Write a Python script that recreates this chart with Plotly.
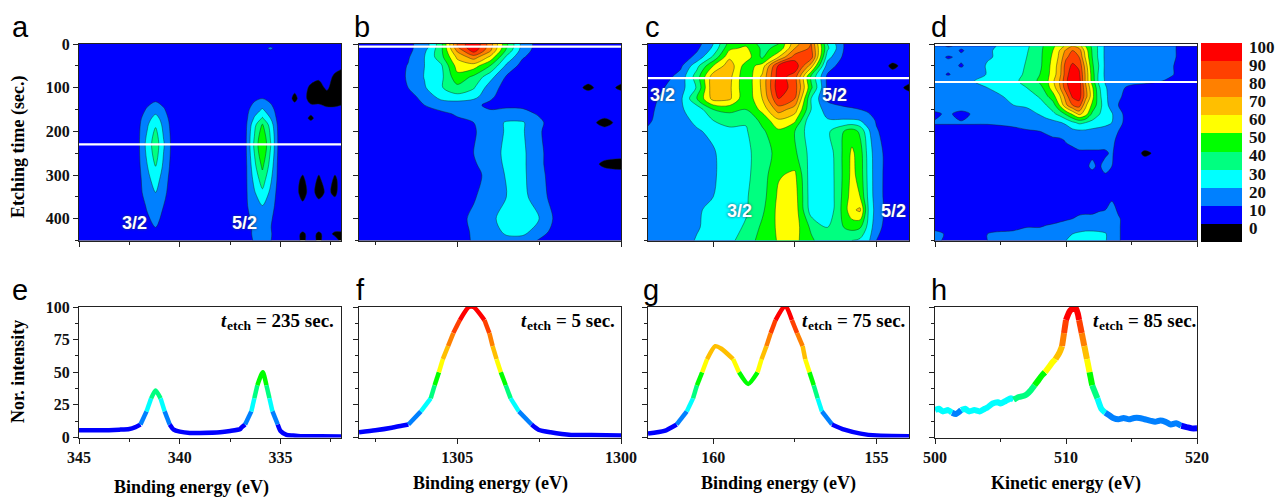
import plotly.graph_objects as go

W, H = 1282, 497
# ---------- map data ----------
a_x = [345,342.6,342,341.6,341.2,340.8,340.4,340,338,337,336.7,336.3,335.9,335.5,335.1,334.7,334.3,333.9,333.5,333.1,332.7,332.3,332]
a_y = [0,10,20,50,75,100,125,150,170,185,230,280,310,340,370,420,435,450]
a_z = [
[5,5,5,5,5,4,4,4,4,4,4,4,3,3,3,2,2,2,2,2,2,2,2],
[5,5,5,5,5,4,4,4,4,4,4,4,4,13,3,2,2,2,2,2,2,2,2],
[5,5,5,5,5,4,4,4,4,4,4,4,3,3,3,2,2,2,2,2,2,2,2],
[5,5,5,5,5,4,4,4,4,4,5,5,5,4,3,2,2,2,2,2,2,2,1],
[5,5,5,5,5,4,4,4,4,5,5,5,5,4,3,2,2,2,2,1,2,-1,-2],
[5,5,5,5,6,4,4,4,5,5,5,6,7,5,3,2,1,2,-1,-2,1,-3,-3],
[5,5,5,7,8,6,4,4,5,5,6,8,10,7,3,2,-1,2,-2,-2,-3,-3,-3],
[5,5,7,11,15,11,5,4,5,6,7,15,21,14,5,2,2,2,2,2,1,1,2],
[5,6,8,16,24,15,6,4,5,6,8,21,31,20,6,2,2,2,-1,2,2,2,2],
[5,6,9,19,29,17,7,4,5,6,9,27,41,26,7,2,2,2,2,2,2,2,2],
[5,6,10,24,36,21,8,4,5,6,10,32,50,31,8,2,2,2,2,2,2,2,2],
[5,6,9,20,30,18,7,4,5,6,9,27,42,26,7,2,2,2,2,2,2,2,2],
[5,6,8,17,25,15,6,4,5,6,9,23,35,22,7,2,2,-1,3,-1,3,-1,2],
[5,6,8,14,20,13,5,4,5,6,9,19,28,18,6,2,2,-2,2,-2,1,-1,2],
[5,5,7,11,15,10,5,4,5,6,9,15,20,14,6,2,2,1,2,2,2,2,2],
[5,5,6,8,10,7,4,4,5,6,8,11,12,10.5,5,2,2,2,2,2,2,2,2],
[5,5,5,6,8,6,4,4,5,6,8,11,12,11,5,2,2,-1,2,-1,2,-1,-1],
[5,5,5,6,7,5,4,4,5,6,8,10.5,11,10.5,5,2,2,-1,2,-1,2,2,-1],
]
b_x = [1308,1307.5,1307,1306.5,1306,1305.5,1305,1304.5,1304,1303.5,1303,1302.5,1302,1301.5,1301,1300.5,1300]
b_y = [0,5,15,30,50,75,100,120,140,160,180,200,250,275,300,350,400,430,450]
b_z = [
[3,3,5,8,14,36,80,100,75,42,16,6,4,3,2,2,2],
[3,3,5,8,14,36,80,100,75,42,16,6,4,3,2,2,2],
[3,3,4,7,18,37,72,95,72,38,15,5,4,3,2,2,2],
[2,3,4,9,20,36,62,75,58,28,11,4,3,2,2,2,2],
[2,3,5,10.5,20,28,54,55,40,18,6,3,2,2,2,2,2],
[2,3,5,11,20.5,27,47,38,24,9,4,3,2,2,2,2,2],
[2,3,5,10,19,29,37,31,15,6,3,3,2,2,-1,2,-1],
[2,3,4,7,13,24,27,24,12,5,3,3,2,2,2,2,2],
[2,2,3,5,10,14,14,12,8,8,8,4,2,2,2,2,2],
[2,2,3,4,6,8,11,11,12,14,13,9,3,2,2,2,2],
[2,2,3,4,5,6,8,10,15,21,21,12,5,2,2,-2,2],
[2,2,3,4,5,5,6,9,15,21,21,11,5,2,2,2,2],
[2,2,3,4,5,5,7,10,16,22,22,12,5,2,2,2,2],
[2,2,3,4,5,5,7,9,14,22,22,12,5,2,2,-1,-2],
[2,2,3,4,5,5,6,8,12,21,22,13,5,2,2,2,2],
[2,2,3,4,5,6,7,9,15,20,23,14,6,2,2,2,2],
[2,2,3,4,5,6,7,12,17,25,26,20,8,2,2,2,2],
[2,2,3,4,5,6,7,11,15,22,23,15,6,2,2,2,2],
[2,2,3,4,5,6,6,11,14,17,16,9,4,2,2,2,2],
]
c_x = [162,161.5,161,160.5,160,159.5,159,158.5,158,157.5,157,156.5,156,155.75,155.5,155.25,155,154.5,154]
c_y = [0,10,30,50,75,100,125,150,175,200,250,300,350,380,420,450]
c_z = [
[2,2,3,6,20,44,48,36,40,66,80,30,10,7,5,3,2,2,2],
[2,2,3,8,22,48,52,38,42,70,82,32,10,7,5,3,3,2,2],
[2,3,4,13,32,58,56,38,60,85,85,24,8,6,5,3,3,2,2],
[2,4,8,27,50,66,45,54,92,97,65,15,5,4,4,3,3,-1,2],
[3,6,14,35,66,63,42,62,95,85,38,8,5,4,4,3,3,2,2],
[3,10,16,31,68,62,42,62,97,85,42,8,4,4,3,3,3,2,-1],
[7,12,18,40,64,62,42,60,90,80,30,8,5,5,5,4,4,2,2],
[8,13,19,24,40,43,40,53,75,65,30,15,12,11,10,8,5,3,3],
[9,13,17,22,30,33,31,43,58,52,21,21,21,21,20,15,9,4,3],
[11,14,18,19,22,28,29,38,48,40,23,28,40,45,38,22,11,4,3],
[12,14,16,18,19,25,28,34,44,42,26,23,42,52,45,26,14,4,3],
[12,14,16,18,19,24,28,35,49,52,24,22,42,53,46,27,14,4,2],
[12,14,16,19,20,24,29,36,52,55,24,21,43,55,50,28,14,4,3],
[13,14,15,19,22,25,29,38,53,56,25,21,44,58,62,30,15,4,3],
[13,14,15,19,24,27,31,42,52,55,38,30,40,43,41,27,13,4,3],
[13,14,15,21,24,27,36,43,51,53,42,32,31,30,28,22,10,4,3],
]
d_x = [500,501,502,503,504,506,507,508,508.5,509,509.5,510,510.5,511,511.5,512,512.5,513,513.5,514,515,516,518,520]
d_y = [5,15,30,50,70,85,100,120,140,160,180,200,220,250,280,320,360,400,420,435,450]
d_z = [
[14,9,12,13,18,24,28,38,42,48,55,62,70,65,50,38,28,18,14,13,13,12,11,6],
[12,15,9,14,19,24,29,38,43,50,60,72,80,75,55,39,28,18,15,13,13,12,11,6],
[14,9,12,15,19,24,30,38,44,52,62,78,85,80,58,40,28,18,15,13,12,11,11,6],
[15,14,9,15,21,25,31,38,45,54,65,85,92,88,65,42,30,18,15,13,12,12,10.5,6],
[15,9,15,13,21,26,32,40,46,55,66,86,97,92,68,45,28,18,15,13,12,11,10.5,6],
[18,18,18,20,22,28,33,42,47,58,70,88,99,95,68,46,28,19,16,14,13,12,9,6],
[16,16,16,18,20,26,30,36,45,55,68,86,97,96,72,52,32,21,16,12,8,7,6,5],
[14,14,15,16,17,22,25,31,38,46,58,75,92,95,74,54,34,22,16,11,7,6,5,5],
[13,13,14,15,15,20,22,26,30,35,50,68,80,85,62,48,35,24,15,10,6,5,5,5],
[9,11,8,11,12,14,15,21,25,28,33,42,52,63,55,38,31,25,21,12,6,5,5,5],
[10.5,10.5,10.5,10.5,10.5,11,12,13,15,17,19,22,28,32,30,27,24,22,20,12,6,5,5,5],
[8,8,8,8,8,9,9.5,10,11,12,13,14,17,18,18,17,17,17,15,10,5,5,4,4],
[7,7,7,7,7,8,8,8,8,9,9,10.5,12,13,13,13,13,13,12,8,4,4,4,4],
[6,6,6,6,6,6,6,6,6,6,7,8,8,9,9,9,9,9,11,6,3,-1,3,3],
[6,6,6,6,6,6,6,6,6,6,7,8,9,9,9,11,9,12,10,5,3,3,3,3],
[6,6,6,6,6,6,6,6,6,6,6,6,6,6,6,6,6,7,10,5,3,3,3,3],
[6,6,6,6,6,6,6,6,6,6,6,6,6,6,7,7,7,8,10,6,3,2,3,3],
[6,6,6,6,6,6,6,6,7,7,8,9,10,11,11,11,12,12,12,11,4,3,3,3],
[8,8,8,8,8,9,10,10,11,12,13,14,14,15,15,15,15,15,13,11,4,3,3,3],
[12,9,9,10,10,11,12,13,14,15,17,19,20,22,24,24,23,21,15,11,4,3,3,3],
[11,9,9,10,10,12,13,14,15,16,18,20,22,24,25,25,23,21,15,11,4,3,3,3],
]
# ---------- spectra ----------
e_x = [345,344,343,342.5,342.2,341.95,341.65,341.42,341.2,340.95,340.75,340.5,340.3,340,339.5,339,338,337.5,337,336.95,336.76,336.45,336.3,336.15,335.88,335.7,335.55,335.4,335.14,335,334.7,334.4,334,333,332]
e_y = [5.5,5.5,6,6.5,8,10,20,30,36,30,20,10,6,4.5,3.5,3.5,4,5,6.5,7.5,10,20,30,40,50,40,30,20,10,5,2,1.5,1,1,0.8]
f_x = [1308,1307.5,1307,1306.7,1306.49,1306.11,1305.81,1305.69,1305.56,1305.44,1305.28,1305.12,1304.92,1304.65,1304.5,1304.17,1304.02,1303.92,1303.8,1303.67,1303.52,1303.37,1303.12,1302.73,1302.52,1302.15,1301.52,1300.9,1300]
f_y = [4,5.5,7.5,9,10,20,30,40,50,60,70,80,90,100,100,90,80,70,60,50,40,30,20,10,6,4,2,2,1.5]
g_x = [162,161.5,161.12,160.81,160.62,160.5,160.34,160.19,159.94,159.75,159.39,159.21,158.93,158.64,158.52,158.37,158.24,158.09,157.84,157.76,157.59,157.43,157.26,157.18,157.05,156.92,156.8,156.67,156.36,155.98,155.48,154.99,154]
g_y = [3,5,10,20,30,40,50,60,70,68,60,50,41,50,60,70,80,90,100,100,90,80,70,60,50,40,30,20,10,6,3,1.5,1]
h_x = [500,500.3,500.6,501,501.3,501.6,502,502.3,502.6,503,503.4,503.8,504,504.4,504.8,505,505.4,505.8,506,506.4,506.8,507,507.3,507.6,507.9,508.2,508.4,508.7,509,509.2,509.5,509.7,509.85,510,510.3,510.7,510.9,511,511.2,511.4,511.6,511.8,512,512.4,512.7,513,513.3,513.6,514,514.4,514.8,515.2,515.6,516,516.4,516.8,517.2,517.6,518,518.4,518.8,519.2,519.6,520]
h_y = [21,22,20,21,19,18,21,22,20,21,20,22,23,26,27,26,28,30,29,31,32,33,36,40,44,48,50,54,58,60,65,70,80,90,97,100,95,90,80,70,60,50,40,30,22,19,17,15,14,15,14,15,15,14,13,12,13,12,10,11,9,8,7,7]

band_colors = ["#000000","#0000ff","#0080ff","#00ffff","#00ff80","#00ff00","#ffff00","#ffbf00","#ff8000","#ff4000","#ff0000"]
cbar_levels = [0,10,20,30,40,50,60,70,80,90,100]
cbar_centers = [-5,5,15,25,35,45,55,65,75,85,95]

scale = []
for i,c in enumerate(band_colors):
    scale += [[i/11,c],[(i+1)/11,c]]
fill_colors = ["#000000"] + band_colors
fill_scale = []
for i,c in enumerate(fill_colors):
    fill_scale += [[i/12,c],[(i+1)/12,c]]

panels_x = [(79,341),(359,621),(648,909),(935,1197)]
top_y, bot_y = (44,240.5),(307,437.5)
fx = lambda p: p/W
fy = lambda p: 1-p/H

fig = go.Figure()
layout = {}
TICKFONT = dict(family="Liberation Serif", size=16, color="#111", weight="bold")
AX = dict(showgrid=False, zeroline=False, showline=True, linecolor="#222", linewidth=1, mirror=True,
          ticks="outside", tickcolor="#222", tickwidth=1, ticklen=5, tickfont=TICKFONT)
MINOR = dict(ticks="outside", ticklen=3, tickcolor="#222", tickwidth=1)

maps = [(a_x,a_y,a_z,230,[345,340,335],[342.5,337.5,332.5],(345,332)),
        (b_x,b_y,b_z,6,[1305,1300],[1307.5,1302.5],(1308,1300)),
        (c_x,c_y,c_z,78,[160,157.5,155],[],(162,154)),
        (d_x,d_y,d_z,87,[500,510,520],[505,515],(500,520))]
spec = [(e_x,e_y,[345,340,335],[342.5,337.5,332.5],(345,332),4.5),
        (f_x,f_y,[1305,1300],[1307.5,1302.5],(1308,1300),4.5),
        (g_x,g_y,[160,155],[157.5],(162,154),4.5),
        (h_x,h_y,[500,510,520],[505,515],(500,520),6)]

n = 1
for i,(xs,ys,zs,line_y,tv,mv,rng) in enumerate(maps):
    xa,ya = f"x{n}",f"y{n}"
    fig.add_trace(go.Contour(x=xs,y=ys,z=zs,xaxis=xa,yaxis=ya,colorscale=fill_scale,zmin=-15,zmax=105,showscale=False,
        autocontour=False,contours=dict(start=-10,end=100,size=10,coloring="fill"),
        line=dict(color="rgba(20,40,30,0.75)",width=0.6,smoothing=0.9),hoverinfo="skip"))
    fig.add_trace(go.Scatter(x=list(rng),y=[line_y,line_y],xaxis=xa,yaxis=ya,mode="lines",
        line=dict(color="white",width=2.2),showlegend=False,hoverinfo="skip"))
    layout[f"xaxis{n}"] = dict(AX,domain=[fx(panels_x[i][0]),fx(panels_x[i][1])],range=list(rng),anchor=ya,
        tickvals=tv,showticklabels=False,minor=dict(MINOR,tickvals=mv))
    layout[f"yaxis{n}"] = dict(AX,domain=[fy(top_y[1]),fy(top_y[0])],range=[450,0],anchor=xa,
        tickvals=[0,100,200,300,400],showticklabels=(i==0),minor=dict(MINOR,tickvals=[50,150,250,350,450]))
    n += 1

for i,(xs,ys,tv,mv,rng,lw) in enumerate(spec):
    xa,ya = f"x{n}",f"y{n}"
    def bnd(v1,v2):
        m=(v1+v2)/2
        return min(int(m//10)+1,10)
    j=0
    while j < len(xs)-1:
        b=bnd(ys[j],ys[j+1]); k=j+1
        while k<len(xs)-1 and bnd(ys[k],ys[k+1])==b: k+=1
        fig.add_trace(go.Scatter(x=xs[j:k+1],y=ys[j:k+1],xaxis=xa,yaxis=ya,mode="lines",
            line=dict(color=band_colors[b],width=lw,shape="spline",smoothing=0.6),showlegend=False,hoverinfo="skip",cliponaxis=True))
        j=k
    layout[f"xaxis{n}"] = dict(AX,domain=[fx(panels_x[i][0]),fx(panels_x[i][1])],range=list(rng),anchor=ya,
        tickvals=tv,minor=dict(MINOR,tickvals=mv))
    layout[f"yaxis{n}"] = dict(AX,domain=[fy(bot_y[1]),fy(bot_y[0])],range=[0,100],anchor=xa,
        tickvals=[0,25,50,75,100],showticklabels=(i==0),minor=dict(MINOR,tickvals=[12.5,37.5,62.5,87.5]))
    n += 1

# colour key
fig.add_trace(go.Heatmap(x=[0],y=cbar_centers,z=[[v] for v in cbar_centers],xaxis=f"x{n}",yaxis=f"y{n}",
    colorscale=scale,zmin=-10,zmax=100,showscale=False,hoverinfo="skip"))
layout[f"xaxis{n}"] = dict(domain=[fx(1201),fx(1242)],visible=False,anchor=f"y{n}")
layout[f"yaxis{n}"] = dict(domain=[fy(242),fy(43)],range=[-10,100],side="right",anchor=f"x{n}",showgrid=False,zeroline=False,
    showline=False,ticks="",tickvals=[v-2.2 for v in cbar_levels],ticktext=[str(v) for v in cbar_levels],ticklabelstandoff=6,
    tickfont=dict(family="Liberation Serif",size=17,color="#111",weight="bold"))

anns=[]
def txt(px,py,s,size,family="Liberation Sans",color="black",weight="normal",anchor="center",angle=0,shadow="none",style="normal"):
    anns.append(dict(x=fx(px),y=fy(py),xref="paper",yref="paper",text=s,showarrow=False,xanchor=anchor,yanchor="middle",textangle=angle,
        font=dict(size=size,family=family,color=color,weight=weight,shadow=shadow,style=style)))
for s,px,py in [("a",20,27),("b",362,27),("c",652,27),("d",939,27),("e",20,290),("f",360,290),("g",651,290),("h",939,290)]:
    txt(px,py,s,29)
glow="0 0 3px #204060"
for s,px,py in [("3/2",134,223),("5/2",244,223),("3/2",662,95),("5/2",834,95),("3/2",739,211),("5/2",894,211)]:
    txt(px,py,s,18,color="white",weight="bold",shadow=glow)
SER="Liberation Serif"
txt(18,147,"Etching time (sec.)",18,SER,weight="bold",angle=-90)
txt(18,372,"Nor. intensity",18,SER,weight="bold",angle=-90)
for s,px,py in [("Binding energy (eV)",191,487),("Binding energy (eV)",490,483),("Binding energy (eV)",778,483),("Kinetic energy (eV)",1066,483)]:
    txt(px,py,s,18,SER,weight="bold")
for s,px,wid in [("235",336,78),("5",617,59),("75",907,68),("85",1198,68)]:
    txt(px,320,f"= {s} sec.",19,SER,weight="bold",anchor="right")
    etch_right = px-wid-5
    txt(etch_right,325,"etch",13.5,SER,weight="bold",anchor="right")
    txt(etch_right-24,320,"t",19,SER,weight="bold",anchor="right",style="italic")

fig.update_layout(width=W,height=H,margin=dict(l=0,r=0,t=0,b=0,autoexpand=False),paper_bgcolor="white",plot_bgcolor="white",
    showlegend=False,annotations=anns,**layout)
fig.write_html("out.html",config={"displayModeBar":False},post_script="document.body.style.margin='0';document.body.style.overflow='hidden';")
